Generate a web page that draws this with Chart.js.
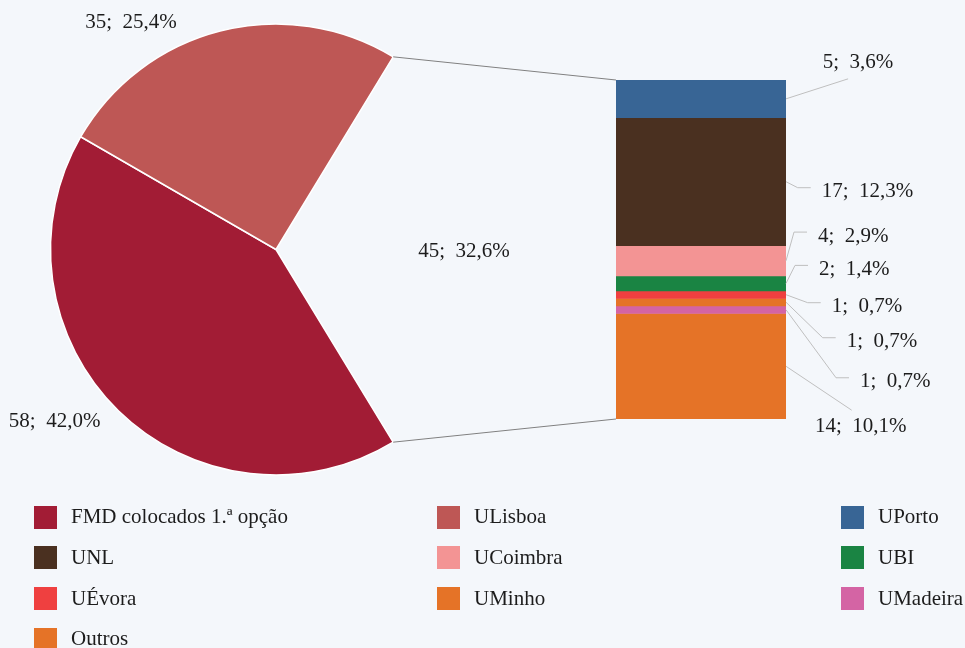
<!DOCTYPE html>
<html><head><meta charset="utf-8">
<script src="https://cdn.jsdelivr.net/npm/chart.js@4/dist/chart.umd.min.js"></script>
<style>
html,body{margin:0;padding:0;background:#F4F7FB;}
#wrap{position:relative;width:965px;height:648px;overflow:hidden;background:#F4F7FB;}
#wrap canvas{position:absolute;left:0;top:0;}
.lg{position:absolute;font-family:"Liberation Serif","Times New Roman",serif;font-size:21px;color:#1c1c1c;white-space:nowrap;line-height:23px;}
.sw{position:absolute;width:23px;height:23px;}
</style></head><body>
<div id="wrap">
<canvas id="pie" width="965" height="648"></canvas>
<canvas id="bar" width="965" height="648"></canvas>
<div id="legend"></div>
</div>
<script>
// ---- data ----
const pieLabels = ['FMD colocados 1.ª opção', 'ULisboa', 'Outras'];
const pieValues = [58, 35, 45];
const barLabels = ['UPorto', 'UNL', 'UCoimbra', 'UBI', 'UÉvora', 'UMinho', 'UMadeira', 'Outros'];
const barValues = [5, 17, 4, 2, 1, 1, 1, 14];
const legendOrder = ['FMD colocados 1.ª opção', 'ULisboa', 'UPorto', 'UNL', 'UCoimbra', 'UBI', 'UÉvora', 'UMinho', 'UMadeira', 'Outros'];

// ---- styles ----
const pieColors = ['#A21C35', '#BE5755', 'rgba(0,0,0,0)'];
const barColors = ['#386595', '#4A3020', '#F39494', '#1A8443', '#EF4040', '#E57327', '#D464A4', '#E57327'];
const colorOf = {};
pieLabels.forEach((l, i) => colorOf[l] = pieColors[i]);
barLabels.forEach((l, i) => colorOf[l] = barColors[i]);

const total = pieValues.reduce((a, b) => a + b, 0);
const fmt = v => v + ';  ' + (v / total * 100).toFixed(1).replace('.', ',') + '%';
const FONT = '21px "Liberation Serif", "Times New Roman", serif';
const TXT = '#1c1c1c';

// pie label placement: clockwise-from-top angle (deg), radius factor
const pieLabelPos = [{ang: 232.1, k: 1.244}, {ang: 327.4, k: 1.193}, {ang: 90.7, k: 0.834}];

const pieLabelPlugin = {
  id: 'pieLabels',
  afterDraw(chart) {
    const ctx = chart.ctx;
    const arcs = chart.getDatasetMeta(0).data;
    ctx.save();
    ctx.font = FONT; ctx.fillStyle = TXT; ctx.textAlign = 'center'; ctx.textBaseline = 'middle';
    arcs.forEach((arc, i) => {
      const p = pieLabelPos[i];
      const a = (p.ang - 90) * Math.PI / 180;
      const r = arc.outerRadius * p.k;
      ctx.fillText(fmt(pieValues[i]), arc.x + r * Math.cos(a), arc.y + r * Math.sin(a));
    });
    ctx.restore();
  }
};

const pieChart = new Chart(document.getElementById('pie'), {
  type: 'pie',
  data: {
    labels: pieLabels,
    datasets: [{
      data: pieValues,
      backgroundColor: pieColors,
      borderColor: ['#FFFFFF', '#FFFFFF', 'rgba(0,0,0,0)'],
      borderWidth: [1.5, 1.5, 0],
      hoverOffset: 0, offset: 0
    }]
  },
  options: {
    responsive: false, animation: false, events: [],
    rotation: 148.7,
    radius: 225.5,
    layout: {padding: {left: 50.5, top: 24, right: 463.5, bottom: 173}},
    plugins: {legend: {display: false}, tooltip: {enabled: false}}
  },
  plugins: [pieLabelPlugin]
});

// bar label placement relative to segment (right edge, center y)
const barLabelPos = [
  {dx: 36.7, dy: -36, mode: 'below'},
  {dx: 35.7, dy: 10, mode: 'elbow'},
  {dx: 32, dy: -24.7, mode: 'elbow'},
  {dx: 33, dy: -14, mode: 'elbow'},
  {dx: 45.7, dy: 12, mode: 'elbow'},
  {dx: 60.7, dy: 39.5, mode: 'elbow'},
  {dx: 74, dy: 72, mode: 'elbow'},
  {dx: 29, dy: 60.4, mode: 'above'}
];

const barLabelPlugin = {
  id: 'barLabels',
  afterDraw(chart) {
    const ctx = chart.ctx;
    // connectors from pie to bar
    const blank = pieChart.getDatasetMeta(0).data[2];
    const ca = chart.chartArea;
    const p1 = {x: blank.x + blank.outerRadius * Math.cos(blank.startAngle), y: blank.y + blank.outerRadius * Math.sin(blank.startAngle)};
    const p2 = {x: blank.x + blank.outerRadius * Math.cos(blank.endAngle), y: blank.y + blank.outerRadius * Math.sin(blank.endAngle)};
    ctx.save();
    ctx.strokeStyle = '#808080'; ctx.lineWidth = 1;
    ctx.beginPath();
    ctx.moveTo(p1.x, p1.y); ctx.lineTo(ca.left, ca.top);
    ctx.moveTo(p2.x, p2.y); ctx.lineTo(ca.left, ca.bottom);
    ctx.stroke();

    ctx.font = FONT; ctx.fillStyle = TXT; ctx.textAlign = 'left'; ctx.textBaseline = 'middle';
    ctx.strokeStyle = '#BFBFBF';
    barLabels.forEach((l, i) => {
      const bar = chart.getDatasetMeta(i).data[0];
      const right = bar.x + bar.width / 2;
      const cy = (bar.y + bar.base) / 2;
      const p = barLabelPos[i];
      const tx = right + p.dx, ty = cy + p.dy;
      const txt = fmt(barValues[i]);
      const w = ctx.measureText(txt).width;
      ctx.beginPath();
      ctx.moveTo(right, cy);
      if (p.mode === 'elbow') {
        ctx.lineTo(tx - 24, ty - 4);
        ctx.lineTo(tx - 11, ty - 4);
      } else if (p.mode === 'below') {
        ctx.lineTo(tx + 0.36 * w, ty + 16);
      } else {
        ctx.lineTo(tx + 0.4 * w, ty - 16.5);
      }
      ctx.stroke();
      ctx.fillText(txt, tx, ty);
    });
    ctx.restore();
  }
};

const barTotal = barValues.reduce((a, b) => a + b, 0);
new Chart(document.getElementById('bar'), {
  type: 'bar',
  data: {
    labels: [''],
    datasets: barLabels.map((l, i) => ({
      label: l, data: [barValues[i]], backgroundColor: barColors[i],
      borderWidth: 0, barPercentage: 1, categoryPercentage: 1
    }))
  },
  options: {
    responsive: false, animation: false, events: [],
    layout: {padding: {left: 616, right: 179, top: 80, bottom: 229}},
    scales: {
      x: {display: false, stacked: true},
      y: {display: false, stacked: true, reverse: true, min: 0, max: barTotal}
    },
    plugins: {legend: {display: false}, tooltip: {enabled: false}}
  },
  plugins: [barLabelPlugin]
});

// legend
const lg = document.getElementById('legend');
const colX = [34, 437, 841];
const rowY = [517, 557.5, 598.5, 639];
legendOrder.forEach((name, i) => {
  const c = i % 3, r = Math.floor(i / 3);
  const sw = document.createElement('div');
  sw.className = 'sw';
  sw.style.left = colX[c] + 'px'; sw.style.top = (rowY[r] - 11.5) + 'px';
  sw.style.background = colorOf[name];
  lg.appendChild(sw);
  const t = document.createElement('div');
  t.className = 'lg';
  t.textContent = name;
  t.style.left = (colX[c] + 37) + 'px'; t.style.top = (rowY[r] - 12) + 'px';
  lg.appendChild(t);
});
</script>
</body></html>
